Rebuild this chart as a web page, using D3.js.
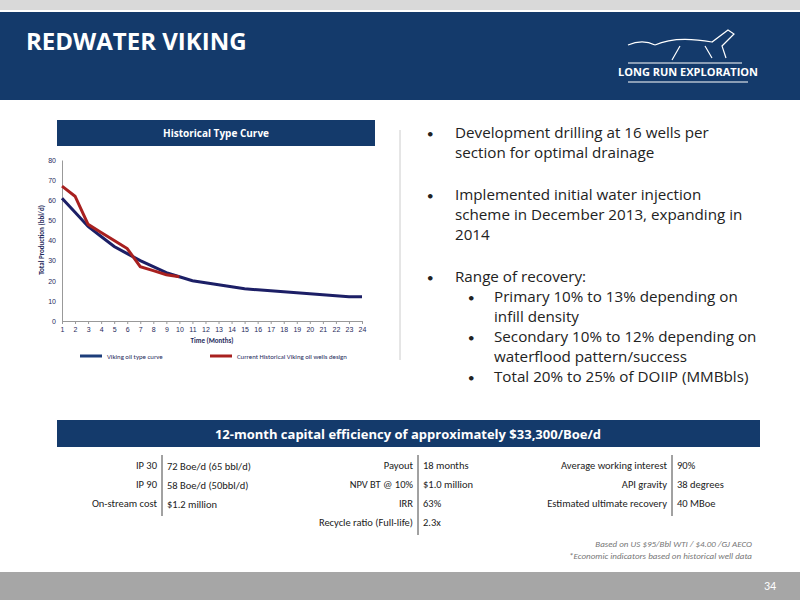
<!DOCTYPE html>
<html><head><meta charset="utf-8">
<script src="https://cdn.jsdelivr.net/npm/d3@7"></script>
<style>body{margin:0;background:#fff}svg{display:block;font-family:Calibri,'Open Sans',sans-serif}</style>
</head><body><script>
const months = d3.range(1, 25);
const typeCurve = [61,54,47,42,37,33.5,30,27,24,22,20,19,18,17,16,15.5,15,14.5,14,13.5,13,12.5,12,12];
const historical = [67,62,48,44,40,36,27,25,23,22];
const yTicks = [0,10,20,30,40,50,60,70,80];
const bullets = [
  {lvl:0, lines:["Development drilling at 16 wells per","section for optimal drainage"]},
  {lvl:0, lines:["Implemented initial water injection","scheme in December 2013, expanding in","2014"]},
  {lvl:0, lines:["Range of recovery:"]},
  {lvl:1, lines:["Primary 10% to 13% depending on","infill density"]},
  {lvl:1, lines:["Secondary 10% to 12% depending on","waterflood pattern/success"]},
  {lvl:1, lines:["Total 20% to 25% of DOIIP (MMBbls)"]}
];
const col1 = [["IP 30","72 Boe/d  (65 bbl/d)"],["IP 90","58 Boe/d (50bbl/d)"],["On-stream cost","$1.2 million"]];
const col2 = [["Payout","18 months"],["NPV BT @ 10%","$1.0 million"],["IRR","63%"],["Recycle ratio (Full-life)","2.3x"]];
const col3 = [["Average working interest","90%"],["API gravity","38 degrees"],["Estimated ultimate recovery","40 MBoe"]];

const navy = "#143a6b";
const svg = d3.select("body").append("svg").attr("width",800).attr("height",600);
svg.append("rect").attr("width",800).attr("height",10).attr("fill","#d9d9d9");
svg.append("rect").attr("y",12).attr("width",800).attr("height",88).attr("fill",navy);
svg.append("text").attr("x",26).attr("y",50).attr("fill","#fff").attr("font-size",24).attr("font-weight","bold").attr("font-family","'Open Sans'").text("REDWATER VIKING");
svg.append("text").attr("x",688).attr("y",76).attr("fill","#fff").attr("font-size",11).attr("font-weight","bold").attr("font-family","'Open Sans'").attr("text-anchor","middle").text("LONG RUN EXPLORATION");
svg.append("path").attr("d","M628,63 L742,63 M628,82 L748,82").attr("stroke","#fff").attr("stroke-width",1.2);
svg.append("path").attr("d","M655,45 C670,38 690,38 712,42 L728,30 L734,34 L722,46 L726,58 M680,46 L672,60 M705,46 L712,58 M655,45 C645,40 635,42 628,45")
  .attr("stroke","#fff").attr("fill","none").attr("stroke-width",1.2);

// chart
svg.append("rect").attr("x",57).attr("y",120).attr("width",318).attr("height",26).attr("fill",navy);
svg.append("text").attr("x",216).attr("y",137).attr("fill","#fff").attr("font-size",10).attr("font-weight","bold").attr("font-family","'Open Sans'").attr("text-anchor","middle").text("Historical Type Curve");
const x = d3.scalePoint().domain(months).range([62,362]);
const y = d3.scaleLinear().domain([0,80]).range([321,160]);
const g = svg.append("g").attr("font-size",7).attr("fill","#1f2b5c");
g.append("g").attr("transform","translate(0,321)").call(d3.axisBottom(x).tickSize(3))
  .call(a=>a.selectAll("text").attr("font-size",7).attr("fill","#1f2b5c"));
g.append("g").attr("transform","translate(62,0)").call(d3.axisLeft(y).tickValues(yTicks).tickSize(0).tickPadding(6))
  .call(a=>a.selectAll("text").attr("font-size",7).attr("fill","#1f2b5c"));
g.selectAll(".domain,.tick line").attr("stroke","#999");
const line = d3.line().x((d,i)=>x(months[i])).y(d=>y(d));
svg.append("path").datum(typeCurve).attr("d",line).attr("fill","none").attr("stroke","#1c1f66").attr("stroke-width",3);
svg.append("path").datum(historical).attr("d",line).attr("fill","none").attr("stroke","#a8201f").attr("stroke-width",3);
svg.append("text").attr("x",212).attr("y",343).attr("text-anchor","middle").attr("font-size",7).attr("font-weight","bold").attr("fill","#1f2b5c").text("Time (Months)");
svg.append("text").attr("transform","translate(44,240) rotate(-90)").attr("text-anchor","middle").attr("font-size",7).attr("font-weight","bold").attr("fill","#1f2b5c").text("Total Production (bbl/d)");
[[80,"#1c3d7a","Viking oil type curve"],[210,"#a8201f","Current Historical Viking oil wells design"]].forEach(([lx,c,t])=>{
  svg.append("line").attr("x1",lx).attr("x2",lx+22).attr("y1",356).attr("y2",356).attr("stroke",c).attr("stroke-width",3);
  svg.append("text").attr("x",lx+27).attr("y",358.5).attr("font-size",6.8).attr("fill","#1f2b5c").text(t);
});
svg.append("line").attr("x1",400).attr("x2",400).attr("y1",130).attr("y2",360).attr("stroke","#ccc");

// bullets
let by = 138;
bullets.forEach(b=>{
  const bx = b.lvl ? 468 : 427, tx = b.lvl ? 494 : 455;
  svg.append("text").attr("x",bx).attr("y",by).attr("font-size",13).attr("fill","#222").text("•");
  b.lines.forEach((l,i)=>svg.append("text").attr("x",tx).attr("y",by+i*20).attr("font-size",15.2).attr("font-family","'Open Sans'").attr("fill","#222").text(l));
  by += b.lines.length*20 + (b.lvl ? 0 : (b.lines.length>1||by<250?22:0));
});

// table
svg.append("rect").attr("x",57).attr("y",420).attr("width",703).attr("height",27).attr("fill",navy);
svg.append("text").attr("x",408).attr("y",439).attr("fill","#fff").attr("font-size",13).attr("font-weight","bold").attr("font-family","'Open Sans'").attr("text-anchor","middle").text("12-month capital efficiency of approximately $33,300/Boe/d");
[[col1,157],[col2,413],[col3,667]].forEach(([rows,sx])=>{
  svg.append("line").attr("x1",sx+5).attr("x2",sx+5).attr("y1",455).attr("y2",455+rows.length*19+4).attr("stroke","#444");
  rows.forEach(([k,v],i)=>{
    svg.append("text").attr("x",sx).attr("y",469+i*19).attr("text-anchor","end").attr("font-size",10.5).attr("fill","#222").text(k);
    svg.append("text").attr("x",sx+10).attr("y",469+i*19+(sx===157?1:0)).attr("font-size",10.5).attr("fill","#222").text(v);
  });
});
svg.append("text").attr("x",752).attr("y",547).attr("text-anchor","end").attr("font-size",9).attr("font-style","italic").attr("fill","#777").text("Based on US $95/Bbl WTI / $4.00 /GJ AECO");
svg.append("text").attr("x",752).attr("y",559).attr("text-anchor","end").attr("font-size",9).attr("font-style","italic").attr("fill","#777").text("*Economic indicators based on historical well data");
svg.append("rect").attr("y",572).attr("width",800).attr("height",28).attr("fill","#a6a6a6");
svg.append("text").attr("x",770).attr("y",590).attr("fill","#fff").attr("font-size",12).attr("text-anchor","middle").text("34");
</script></body></html>
